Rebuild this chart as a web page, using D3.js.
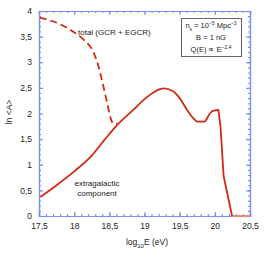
<!DOCTYPE html>
<html>
<head>
<meta charset="utf-8">
<script src="https://cdn.jsdelivr.net/npm/d3@7"></script>
<style>
body { margin: 0; background: #fff; }
text { font-family: "Liberation Sans", Arial, sans-serif; fill: #222; }
</style>
</head>
<body>
<div id="chart"></div>
<script>
// extragalactic component (solid)
let egX = [17.52, 17.75, 18.0, 18.25, 18.44, 18.6, 18.84, 19.0, 19.15, 19.27, 19.4, 19.5, 19.6, 19.7, 19.75, 19.85, 19.93, 19.97, 20.05, 20.08, 20.125, 20.245];
let egY = [0.37, 0.6, 0.87, 1.18, 1.5, 1.76, 2.07, 2.28, 2.43, 2.49, 2.44, 2.3, 2.08, 1.9, 1.84, 1.84, 2.0, 2.05, 2.07, 1.76, 0.78, 0];
// flat tail at zero
let tailX = [20.245, 20.5];
let tailY = [0, 0];
// total (GCR + EGCR), dashed
let totX = [17.51, 17.75, 17.97, 18.15, 18.27, 18.35, 18.41, 18.47, 18.52, 18.56, 18.61];
let totY = [3.87, 3.77, 3.61, 3.42, 3.21, 2.9, 2.56, 2.2, 1.9, 1.8, 1.8];

let xTicks = [17.5, 18, 18.5, 19, 19.5, 20, 20.5];
let yTicks = [0, 0.5, 1, 1.5, 2, 2.5, 3, 3.5, 4];

let margin = {top: 11, right: 24, bottom: 37, left: 39};
let fullWidth = 274, fullHeight = 253;
let width = fullWidth - margin.left - margin.right;
let height = fullHeight - margin.top - margin.bottom;

let axisColor = "#7b8ef5";
let red = "#d22a14";

let svg = d3.select("#chart").append("svg")
    .attr("width", fullWidth)
    .attr("height", fullHeight);

let g = svg.append("g")
    .attr("transform", "translate(" + margin.left + "," + margin.top + ")");

let x = d3.scaleLinear().domain([17.5, 20.5]).range([0, width]);
let y = d3.scaleLinear().domain([0, 4]).range([height, 0]);

let fmt = d => String(d).replace(".", ",");

// minor tick positions
let xMinor = d3.range(17.5, 20.5001, 0.1).map(d => +d.toFixed(1));
let yMinor = d3.range(0, 4.0001, 0.1).map(d => +d.toFixed(1));

function styleAxis(sel) {
    sel.select(".domain").attr("stroke", axisColor).attr("stroke-width", 1.2);
    sel.selectAll(".tick line").attr("stroke", axisColor).attr("stroke-width", 1.2);
    sel.selectAll(".tick text").style("font-size", "8.5px").attr("fill", "#222");
}

// minor axes
g.append("g").attr("transform", "translate(0," + height + ")")
    .call(d3.axisBottom(x).tickValues(xMinor).tickSize(-2).tickFormat(""))
    .call(styleAxis);
g.append("g")
    .call(d3.axisTop(x).tickValues(xMinor).tickSize(-2).tickFormat(""))
    .call(styleAxis);
g.append("g")
    .call(d3.axisLeft(y).tickValues(yMinor).tickSize(-2).tickFormat(""))
    .call(styleAxis);
g.append("g").attr("transform", "translate(" + width + ",0)")
    .call(d3.axisRight(y).tickValues(yMinor).tickSize(-2).tickFormat(""))
    .call(styleAxis);

// major axes
g.append("g").attr("transform", "translate(0," + height + ")")
    .call(d3.axisBottom(x).tickValues(xTicks).tickSize(-4).tickPadding(7).tickFormat(fmt))
    .call(styleAxis);
g.append("g")
    .call(d3.axisTop(x).tickValues(xTicks).tickSize(-4).tickFormat(""))
    .call(styleAxis);
g.append("g")
    .call(d3.axisLeft(y).tickValues(yTicks).tickSize(-4).tickPadding(7).tickFormat(fmt))
    .call(styleAxis);
g.append("g").attr("transform", "translate(" + width + ",0)")
    .call(d3.axisRight(y).tickValues(yTicks).tickSize(-4).tickFormat(""))
    .call(styleAxis);

let smooth = d3.line()
    .x(d => x(d[0]))
    .y(d => y(d[1]))
    .curve(d3.curveMonotoneX);
let straight = d3.line()
    .x(d => x(d[0]))
    .y(d => y(d[1]));

let eg = d3.zip(egX, egY);
let cut = egX.indexOf(20.05);

g.append("path")
    .attr("d", straight(d3.zip(tailX, tailY)))
    .attr("fill", "none")
    .attr("stroke", "#ec8a78")
    .attr("stroke-width", 2);

g.append("path")
    .attr("d", smooth(eg.slice(0, cut + 1)) + straight(eg.slice(cut)).replace("M", "L"))
    .attr("fill", "none")
    .attr("stroke", red)
    .attr("stroke-width", 1.8)
    .attr("stroke-linejoin", "round");

g.append("path")
    .attr("d", smooth(d3.zip(totX, totY)))
    .attr("fill", "none")
    .attr("stroke", red)
    .attr("stroke-width", 1.8)
    .attr("stroke-dasharray", "7,4");

// annotations
svg.append("text").attr("x", 78).attr("y", 35)
    .style("font-size", "8px").text("total (GCR + EGCR)");
svg.append("text").attr("x", 97).attr("y", 186).attr("text-anchor", "middle")
    .style("font-size", "8px").text("extragalactic");
svg.append("text").attr("x", 97).attr("y", 196).attr("text-anchor", "middle")
    .style("font-size", "8px").text("component");

// parameter box
svg.append("rect").attr("x", 181.5).attr("y", 18.5).attr("width", 60).attr("height", 38)
    .attr("fill", "#fff").attr("stroke", "#666").attr("stroke-width", 1);
let t1 = svg.append("text").attr("x", 211).attr("y", 28).attr("text-anchor", "middle").style("font-size", "7.5px");
t1.append("tspan").text("n");
t1.append("tspan").attr("dy", 3).style("font-size", "5px").text("s");
t1.append("tspan").attr("dy", -3).text(" = 10");
t1.append("tspan").attr("dy", -3).style("font-size", "5px").text("\u22125");
t1.append("tspan").attr("dy", 3).text(" Mpc");
t1.append("tspan").attr("dy", -3).style("font-size", "5px").text("\u22123");
svg.append("text").attr("x", 211).attr("y", 40).attr("text-anchor", "middle")
    .style("font-size", "7.5px").text("B = 1 nG");
let t3 = svg.append("text").attr("x", 211).attr("y", 52).attr("text-anchor", "middle").style("font-size", "7.5px");
t3.append("tspan").text("Q(E) \u221D E");
t3.append("tspan").attr("dy", -3).style("font-size", "5px").text("\u22122.4");

// axis titles
let xl = svg.append("text").attr("x", 147).attr("y", 245).attr("text-anchor", "middle").style("font-size", "8.5px");
xl.append("tspan").text("log");
xl.append("tspan").attr("dy", 2.5).style("font-size", "6px").text("10");
xl.append("tspan").attr("dy", -2.5).text("E (eV)");

svg.append("text")
    .attr("transform", "translate(12,112) rotate(-90)")
    .attr("text-anchor", "middle")
    .style("font-size", "8.5px")
    .text("ln <A>");
</script>
</body>
</html>
